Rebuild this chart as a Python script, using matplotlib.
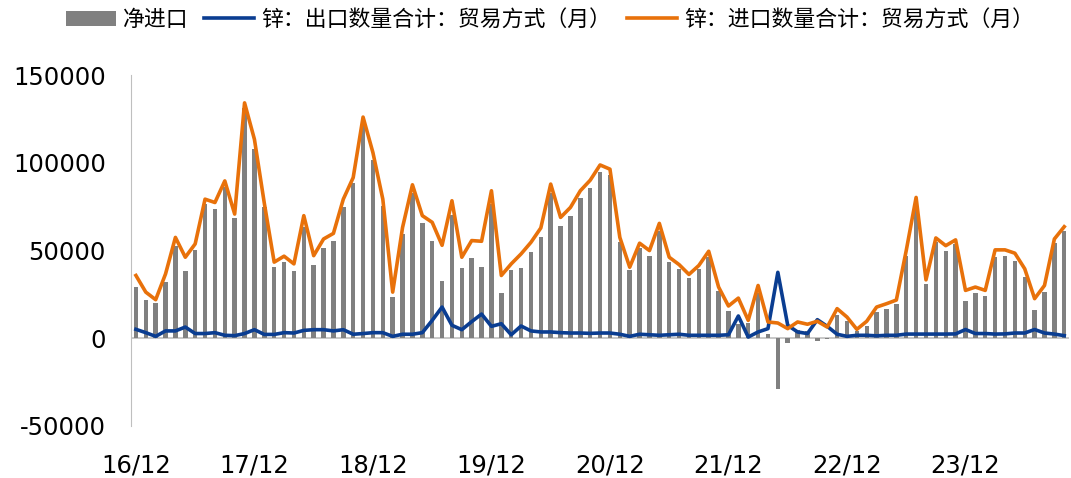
import numpy as np
import matplotlib
matplotlib.use('Agg')
import matplotlib.pyplot as plt

plt.rcParams['font.family'] = ['Noto Sans CJK SC', 'DejaVu Sans']
plt.rcParams['axes.unicode_minus'] = False

# monthly, 2016/12 .. 2024/10
months = [f"{y % 100:02d}/{m:02d}" for y in range(2016, 2025) for m in range(1, 13)]
months = months[11:11 + 95]

net_import = [
    29200, 21600, 20100, 32000, 52500, 38100, 50600, 76500, 73700, 86000,
    68500, 131000, 108100, 75000, 40500, 43300, 38600, 63200, 42000, 51300,
    55300, 74600, 88800, 121900, 101500, 75500, 23500, 59500, 83100, 65700,
    55300, 32800, 70400, 40100, 45800, 40500, 76500, 26000, 39000, 39900,
    49400, 57900, 83100, 64200, 69900, 79900, 85600, 95000, 93000, 54700,
    39000, 51500, 47000, 61300, 43700, 39600, 34500, 39600, 46200, 26700,
    15500, 8300, 8700, 26000, 2600, -28800, -2600, 5000, 4000, -1500,
    -500, 13100, 9800, 4200, 7000, 15000, 16500, 19500, 46700, 74600,
    30700, 54700, 50000, 53800, 21200, 25700, 23900, 46600, 47100, 43900,
    35200, 16300, 26300, 54100, 61300,
]
zinc_export = [
    5100, 3200, 1100, 4200, 4200, 6400, 2700, 2700, 3200, 1700,
    1500, 2700, 4900, 2200, 2200, 3200, 3000, 4500, 4900, 4900,
    4200, 4900, 2300, 2700, 3200, 3200, 1100, 2300, 2300, 3200,
    10200, 17800, 7400, 4900, 9500, 13800, 6800, 8300, 2000, 7000,
    4200, 3600, 3600, 3200, 3000, 3000, 2800, 3000, 3000, 2300,
    1100, 2300, 2000, 1700, 2000, 2300, 1700, 1700, 1700, 1700,
    2000, 12700, 700, 3600, 5500, 37600, 7400, 3600, 2700, 10600,
    6800, 2300, 1100, 1700, 1700, 1400, 1700, 1700, 2400, 2400,
    2400, 2400, 2400, 2500, 5000, 2700, 2700, 2400, 2500, 3000,
    3000, 5000, 3000, 2400, 1500,
]
zinc_import = [
    35800, 26300, 22000, 36700, 57500, 46200, 53800, 79300, 77400, 89700,
    70800, 134200, 113400, 77000, 43400, 46800, 42400, 69900, 47100, 56600,
    59800, 79300, 91600, 126100, 105800, 79300, 26300, 63200, 87500, 69900,
    66100, 53000, 78400, 46200, 55700, 55300, 84100, 35800, 42400, 48100,
    54700, 62900, 87900, 68900, 74600, 84100, 90100, 98800, 96400, 57500,
    40500, 54200, 50000, 65500, 46200, 42000, 36400, 41500, 49600, 29200,
    18400, 22900, 10200, 30100, 9300, 8700, 5500, 9300, 8000, 9700,
    6400, 16900, 12100, 5100, 9700, 17800, 19700, 21800, 50000, 80300,
    33300, 57200, 52800, 56100, 27300, 29200, 27300, 50400, 50400, 48500,
    39600, 22600, 30100, 56600, 63600,
]

x = np.arange(len(months))

fig = plt.figure(figsize=(10.71, 4.78), dpi=100)
ax = fig.add_axes([0.1223, 0.1088, 0.876, 0.734])

b = ax.bar(x, net_import, width=0.45, color='#808080', label='净进口', zorder=2)
l1, = ax.plot(x, zinc_export, color='#0A3D91', lw=2.6, label='锌：出口数量合计：贸易方式（月）', zorder=3)
l2, = ax.plot(x, zinc_import, color='#E8710A', lw=2.6, label='锌：进口数量合计：贸易方式（月）', zorder=4)

ax.set_xlim(-0.5, len(months) - 0.5)
ax.set_ylim(-50000, 150000)
ax.set_yticks([-50000, 0, 50000, 100000, 150000])
ax.set_xticks(x[::12])
ax.set_xticklabels(months[::12])
ax.tick_params(axis='both', length=0, labelsize=17.5)
ax.tick_params(axis='y', pad=18)
ax.tick_params(axis='x', pad=20)
for lab in ax.get_xticklabels() + ax.get_yticklabels():
    lab.set_family('DejaVu Sans')

for s in ['top', 'right', 'bottom']:
    ax.spines[s].set_visible(False)
ax.spines['left'].set_color('#bfbfbf')
ax.axhline(0, color='#bfbfbf', lw=1.2, zorder=1)

fig.legend(handles=[b, l1, l2], loc='center', bbox_to_anchor=(0.5135, 0.958), ncol=3,
           frameon=False, fontsize=15.75, handlelength=2.3, handletextpad=0.33,
           columnspacing=0.7)

fig.savefig('out.png', dpi=100)
